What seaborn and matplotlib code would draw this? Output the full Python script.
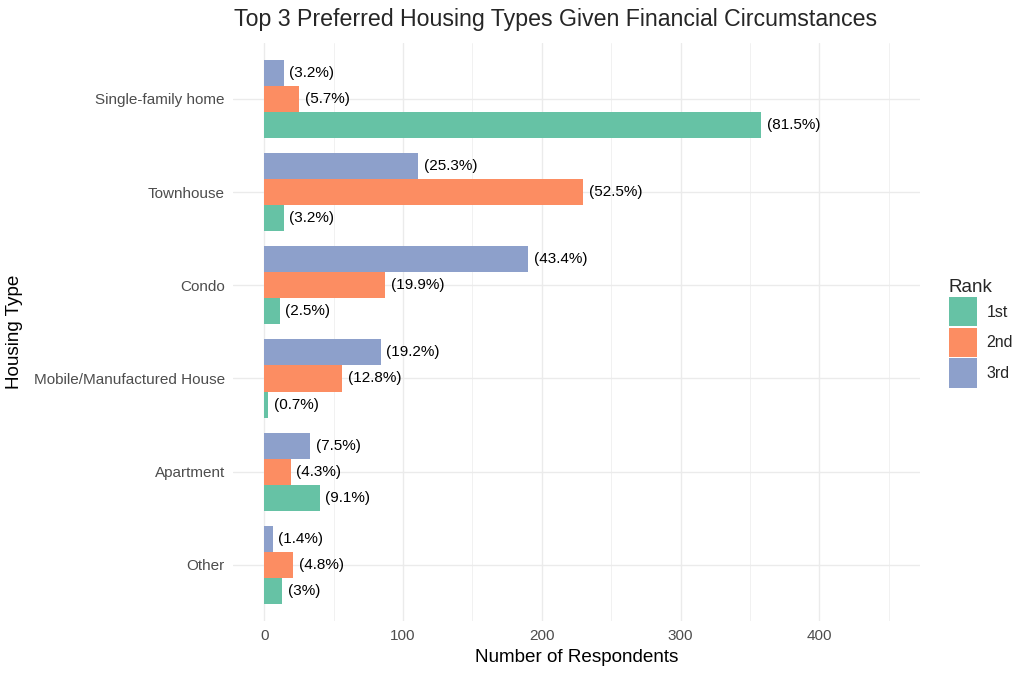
import pandas as pd
import numpy as np
import matplotlib.pyplot as plt
import seaborn as sns
from matplotlib.patches import Patch

sns.set_style("white")
plt.rcParams["font.family"] = ["Liberation Sans", "DejaVu Sans"]

# ===========================
# DATA
# ===========================

housing_types = [
    "Single-family home",
    "Townhouse",
    "Condo",
    "Mobile/Manufactured House",
    "Apartment",
    "Other",
]

ranks = ["1st", "2nd", "3rd"]

count_1st = [358, 14, 11, 3, 40, 13]
count_2nd = [25, 230, 87, 56, 19, 21]
count_3rd = [14, 111, 190, 84, 33, 6]

label_1st = ["(81.5%)", "(3.2%)", "(2.5%)", "(0.7%)", "(9.1%)", "(3%)"]
label_2nd = ["(5.7%)", "(52.5%)", "(19.9%)", "(12.8%)", "(4.3%)", "(4.8%)"]
label_3rd = ["(3.2%)", "(25.3%)", "(43.4%)", "(19.2%)", "(7.5%)", "(1.4%)"]

colors = {"1st": "#66C2A5", "2nd": "#FC8D62", "3rd": "#8DA0CB"}

df = pd.DataFrame({
    "Housing Type": housing_types * 3,
    "Rank": ["1st"] * 6 + ["2nd"] * 6 + ["3rd"] * 6,
    "Count": count_1st + count_2nd + count_3rd,
    "Label": label_1st + label_2nd + label_3rd,
})

# ===========================
# PLOT
# ===========================

fig = plt.figure(figsize=(10.36, 6.8), dpi=100)
ax = fig.add_axes([0.225, 0.087, 0.663, 0.850])

hue_order = ["3rd", "2nd", "1st"]

sns.barplot(
    data=df,
    x="Count",
    y="Housing Type",
    hue="Rank",
    hue_order=hue_order,
    order=housing_types,
    palette=colors,
    orient="h",
    width=0.84,
    saturation=1,
    linewidth=0,
    edgecolor="none",
    legend=False,
    ax=ax
)

for container, rank in zip(ax.containers, hue_order):
    labels = df[df["Rank"] == rank].set_index("Housing Type").loc[housing_types, "Label"]
    ax.bar_label(container, labels=list(labels), padding=4, fontsize=11, color="black")

ax.set_xlim(-22.5, 472.5)
ax.set_ylim(len(housing_types) - 0.4, -0.6)
ax.set_xticks([0, 100, 200, 300, 400])
ax.set_xticks([50, 150, 250, 350, 450], minor=True)

ax.grid(True, which="major", axis="both", color="#EBEBEB", linewidth=1.0)
ax.grid(True, which="minor", axis="x", color="#EBEBEB", linewidth=0.5)
ax.set_axisbelow(True)
for s in ax.spines.values():
    s.set_visible(False)

ax.tick_params(axis="both", which="both", length=0, labelsize=11, labelcolor="#4D4D4D", pad=6)

ax.set_xlabel("Number of Respondents", fontsize=13.6, color="black", labelpad=4)
ax.set_ylabel("Housing Type", fontsize=13.6, color="black", labelpad=8)

fig.suptitle(
    "Top 3 Preferred Housing Types Given Financial Circumstances",
    fontsize=16.7,
    x=0.536,
    y=0.988
)

handles = [Patch(facecolor=colors[r], edgecolor="none", label=r) for r in ranks]
fig.legend(
    handles=handles,
    title="Rank",
    loc="center left",
    bbox_to_anchor=(0.902, 0.51),
    frameon=False,
    fontsize=11.5,
    title_fontsize=13.6,
    handlelength=1.75,
    handleheight=2.45,
    handletextpad=0.6,
    labelspacing=0.08,
    alignment="left"
)

plt.savefig("out.png", dpi=100)
